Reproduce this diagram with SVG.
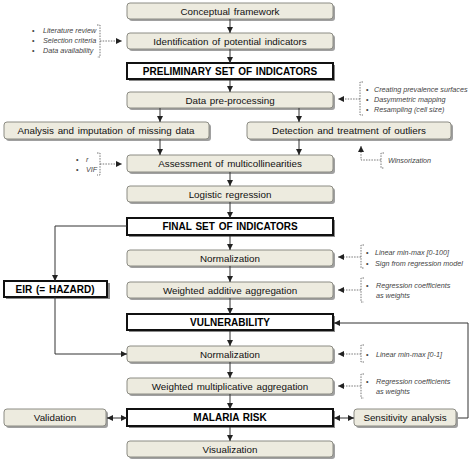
<svg xmlns="http://www.w3.org/2000/svg" width="472" height="460" viewBox="0 0 472 460">
<defs>
<style>
.box rect.s{fill:#a0a0a0;}
.box rect.f{fill:#edebdf;stroke:#8c8c84;stroke-width:1;}
.bold rect.s{fill:#8a8a8a;}
.bold rect.f{fill:#ffffff;stroke:#111;stroke-width:2;}
text{font-family:"Liberation Sans",Arial,sans-serif;}
.t{font-size:9.8px;fill:#111;text-anchor:middle;word-spacing:1px;}
.tb{font-size:10px;font-weight:bold;fill:#000;text-anchor:middle;word-spacing:1px;}
.a{font-size:7.2px;font-style:italic;fill:#444;}
.bu{font-size:7.2px;fill:#444;}
.ln{stroke:#333;stroke-width:1;fill:none;}
.dt{stroke:#666;stroke-width:0.9;fill:none;stroke-dasharray:1.5 1.2;}
</style>
<marker id="ah" viewBox="0 0 6 6" refX="6" refY="3" markerWidth="6" markerHeight="6" markerUnits="userSpaceOnUse" orient="auto-start-reverse"><path d="M0,0 L6,3 L0,6 z" fill="#222"/></marker>
</defs>

<g id="n1" class="box"><rect class="s" x="129" y="5" width="206" height="16" rx="3"/><rect class="f" x="127" y="3" width="206" height="16" rx="3"/><text class="t" x="230" y="15">Conceptual framework</text></g>
<g id="n2" class="box"><rect class="s" x="129" y="35" width="206" height="16" rx="3"/><rect class="f" x="127" y="33" width="206" height="16" rx="3"/><text class="t" x="230" y="45">Identification of potential indicators</text></g>
<g id="n3" class="bold"><rect class="s" x="129" y="65" width="206" height="16"/><rect class="f" x="127" y="63" width="206" height="16"/><text class="tb" x="230" y="75">PRELIMINARY SET OF INDICATORS</text></g>
<g id="n4" class="box"><rect class="s" x="129" y="94" width="206" height="16" rx="3"/><rect class="f" x="127" y="92" width="206" height="16" rx="3"/><text class="t" x="230" y="104">Data pre-processing</text></g>
<g id="n5" class="box"><rect class="s" x="6" y="124" width="205" height="17" rx="3"/><rect class="f" x="4" y="122" width="205" height="17" rx="3"/><text class="t" x="106" y="134">Analysis and imputation of missing data</text></g>
<g id="n6" class="box"><rect class="s" x="249" y="124" width="204" height="17" rx="3"/><rect class="f" x="247" y="122" width="204" height="17" rx="3"/><text class="t" x="349" y="134">Detection and treatment of outliers</text></g>
<g id="n7" class="box"><rect class="s" x="129" y="157" width="206" height="17" rx="3"/><rect class="f" x="127" y="155" width="206" height="17" rx="3"/><text class="t" x="230" y="167">Assessment of multicollinearities</text></g>
<g id="n8" class="box"><rect class="s" x="129" y="188" width="206" height="16" rx="3"/><rect class="f" x="127" y="186" width="206" height="16" rx="3"/><text class="t" x="230" y="198">Logistic regression</text></g>
<g id="n9" class="bold"><rect class="s" x="129" y="220" width="206" height="17"/><rect class="f" x="127" y="218" width="206" height="17"/><text class="tb" x="230" y="230">FINAL SET OF INDICATORS</text></g>
<g id="n10" class="box"><rect class="s" x="129" y="252" width="206" height="16" rx="3"/><rect class="f" x="127" y="250" width="206" height="16" rx="3"/><text class="t" x="230" y="262">Normalization</text></g>
<g id="n11" class="box"><rect class="s" x="129" y="284" width="206" height="16" rx="3"/><rect class="f" x="127" y="282" width="206" height="16" rx="3"/><text class="t" x="230" y="294">Weighted additive aggregation</text></g>
<g id="n12" class="bold"><rect class="s" x="6" y="283" width="104" height="16"/><rect class="f" x="4" y="281" width="103" height="16"/><text class="tb" x="55" y="293">EIR (= HAZARD)</text></g>
<g id="n13" class="bold"><rect class="s" x="129" y="316" width="206" height="16"/><rect class="f" x="127" y="314" width="206" height="16"/><text class="tb" x="230" y="326">VULNERABILITY</text></g>
<g id="n14" class="box"><rect class="s" x="129" y="348" width="206" height="16" rx="3"/><rect class="f" x="127" y="346" width="206" height="16" rx="3"/><text class="t" x="230" y="358">Normalization</text></g>
<g id="n15" class="box"><rect class="s" x="129" y="380" width="206" height="16" rx="3"/><rect class="f" x="127" y="378" width="206" height="16" rx="3"/><text class="t" x="230" y="390">Weighted multiplicative aggregation</text></g>
<g id="n16" class="bold"><rect class="s" x="129" y="411" width="206" height="17"/><rect class="f" x="127" y="409" width="206" height="17"/><text class="tb" x="230" y="421">MALARIA RISK</text></g>
<g id="n17" class="box"><rect class="s" x="6" y="411" width="102" height="17" rx="3"/><rect class="f" x="4" y="409" width="102" height="17" rx="3"/><text class="t" x="55" y="421">Validation</text></g>
<g id="n18" class="box"><rect class="s" x="356" y="411" width="102" height="17" rx="3"/><rect class="f" x="354" y="409" width="102" height="17" rx="3"/><text class="t" x="405" y="421">Sensitivity analysis</text></g>
<g id="n19" class="box"><rect class="s" x="129" y="443" width="206" height="16" rx="3"/><rect class="f" x="127" y="441" width="206" height="16" rx="3"/><text class="t" x="230" y="453">Visualization</text></g>

<g id="connectors">
<path class="ln" marker-end="url(#ah)" d="M230,19 V33"/>
<path class="ln" marker-end="url(#ah)" d="M230,49 V63"/>
<path class="ln" marker-end="url(#ah)" d="M230,80 V92"/>
<path class="ln" marker-end="url(#ah)" d="M160,108 V122"/>
<path class="ln" marker-end="url(#ah)" d="M299,108 V122"/>
<path class="ln" marker-end="url(#ah)" d="M160,139 V155"/>
<path class="ln" marker-end="url(#ah)" d="M299,139 V155"/>
<path class="ln" marker-end="url(#ah)" d="M230,172 V186"/>
<path class="ln" marker-end="url(#ah)" d="M230,202 V218"/>
<path class="ln" marker-end="url(#ah)" d="M230,236 V250"/>
<path class="ln" marker-end="url(#ah)" d="M230,266 V282"/>
<path class="ln" marker-end="url(#ah)" d="M230,298 V314"/>
<path class="ln" marker-end="url(#ah)" d="M230,331 V346"/>
<path class="ln" marker-end="url(#ah)" d="M230,362 V378"/>
<path class="ln" marker-end="url(#ah)" d="M230,394 V409"/>
<path class="ln" marker-end="url(#ah)" d="M230,427 V441"/>
<path class="ln" marker-end="url(#ah)" d="M127,226 H55 V281"/>
<path class="ln" marker-end="url(#ah)" d="M55,297 V354 H127"/>
<path class="ln" marker-start="url(#ah)" marker-end="url(#ah)" d="M107,418 H127"/>
<path class="ln" marker-start="url(#ah)" marker-end="url(#ah)" d="M334,418 H354"/>
<path class="ln" marker-end="url(#ah)" d="M458,418 H468 V323 H334"/>
<path class="dt" d="M97,25 H100 V57 H97"/>
<path class="dt" marker-end="url(#ah)" d="M100,41 H122"/>
<path class="dt" d="M363,82 H360 V115 H363"/>
<path class="dt" marker-end="url(#ah)" d="M360,99 H338"/>
<path class="dt" d="M97,153 H100 V175 H97"/>
<path class="dt" marker-end="url(#ah)" d="M100,164 H122"/>
<path class="dt" d="M384,153 H381 V168 H384"/>
<path class="dt" marker-end="url(#ah)" d="M381,160 H361 V146"/>
<path class="dt" d="M364,245 H361 V268 H364"/>
<path class="dt" marker-end="url(#ah)" d="M361,257 H338"/>
<path class="dt" d="M364,278 H361 V302 H364"/>
<path class="dt" marker-end="url(#ah)" d="M361,290 H338"/>
<path class="dt" d="M364,345 H361 V362 H364"/>
<path class="dt" marker-end="url(#ah)" d="M361,354 H338"/>
<path class="dt" d="M364,374 H361 V398 H364"/>
<path class="dt" marker-end="url(#ah)" d="M361,386 H338"/>
</g>

<g id="notes">
<text class="bu" x="32" y="33">•</text><text class="a" x="43" y="33">Literature review</text>
<text class="bu" x="32" y="43">•</text><text class="a" x="43" y="43">Selection criteria</text>
<text class="bu" x="32" y="53">•</text><text class="a" x="43" y="53">Data availability</text>
<text class="bu" x="366" y="92">•</text><text class="a" x="374" y="92">Creating prevalence surfaces</text>
<text class="bu" x="366" y="102">•</text><text class="a" x="374" y="102">Dasymmetric mapping</text>
<text class="bu" x="366" y="112">•</text><text class="a" x="374" y="112">Resampling (cell size)</text>
<text class="a" x="388" y="163">Winsorization</text>
<text class="bu" x="76" y="162">•</text><text class="a" x="86" y="162">r</text>
<text class="bu" x="76" y="172">•</text><text class="a" x="86" y="172">VIF</text>
<text class="bu" x="366" y="255">•</text><text class="a" x="375" y="255">Linear min-max [0-100]</text>
<text class="bu" x="366" y="266">•</text><text class="a" x="375" y="266">Sign from regression model</text>
<text class="bu" x="366" y="288">•</text><text class="a" x="376" y="288">Regression coefficients</text>
<text class="a" x="376" y="298">as weights</text>
<text class="bu" x="366" y="357">•</text><text class="a" x="376" y="357">Linear min-max [0-1]</text>
<text class="bu" x="366" y="384">•</text><text class="a" x="376" y="384">Regression coefficients</text>
<text class="a" x="376" y="394">as weights</text>
</g>
</svg>
